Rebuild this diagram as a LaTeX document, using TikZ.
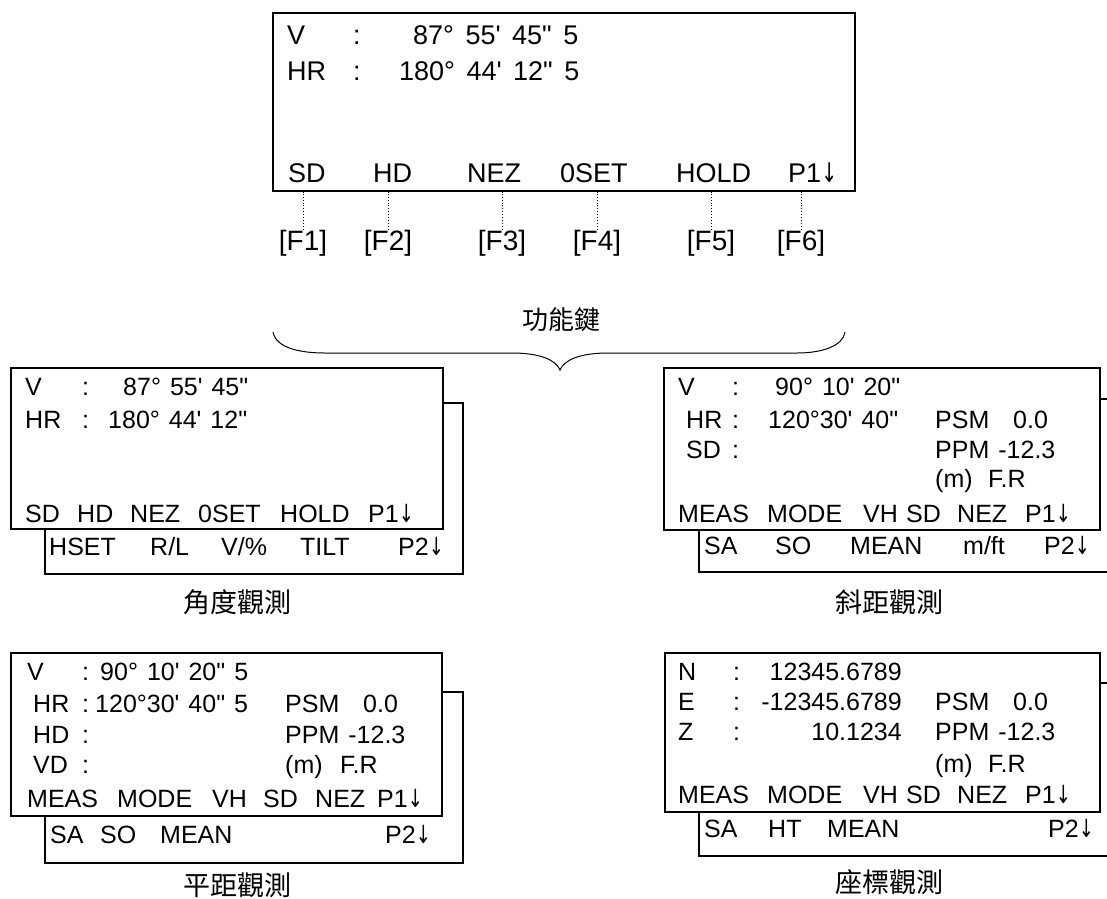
\documentclass[tikz,border=0pt]{standalone}
\usepackage{fontspec}
\newfontfamily\lcd{Liberation Sans}
\newfontfamily\dejavu{DejaVu Sans}
\newfontfamily\cjk{Noto Sans CJK TC}
\newcommand\dnarr{\scalebox{0.72}[1]{\dejavu ↓}}

\begin{document}
\begin{tikzpicture}[x=1pt, y=-1pt,
  scr/.style={draw, line width=1.2pt, fill=white},
  txt/.style={anchor=base west, inner sep=0pt, font=\lcd\fontsize{25}{28}\selectfont\spaceskip 9pt\relax},
  big/.style={txt, font=\lcd\fontsize{27}{30}\selectfont\spaceskip 11.5pt\relax},
  txe/.style={txt, anchor=base east},
  fkey/.style={anchor=base, inner sep=0pt, font=\lcd\fontsize{28}{30}\selectfont},
  capt/.style={inner sep=0pt, font=\cjk\fontsize{27}{30}\selectfont}]
\useasboundingbox (0,0) rectangle (1107,898);
\clip (0,0) rectangle (1107,898);

% main screen with function keys
\node[scr, inner sep=0pt, minimum width=582pt, minimum height=178pt] (main) at (564,102) {};
\node[big] (mv) at (287,44) {V};
\node[big] (mvc) at (353,44) {:};
\node[big] (mvv) at (413,44) {87° 55' 45" 5};
\node[big] (mh) at (287,80) {HR};
\node[big] (mhc) at (353,80) {:};
\node[big] (mhv) at (399,80) {180° 44' 12" 5};
\node[big] (k1) at (288,182) {SD};
\node[big] (k2) at (373,182) {HD};
\node[big] (k3) at (467,182) {NEZ};
\node[big] (k4) at (560,182) {0SET};
\node[big] (k5) at (676,182) {HOLD};
\node[big] (k6) at (788,182) {P1\dnarr};
\node[fkey] (f1) at (303,250) {[F1]};
\node[fkey] (f2) at (388,250) {[F2]};
\node[fkey] (f3) at (502,250) {[F3]};
\node[fkey] (f4) at (597,250) {[F4]};
\node[fkey] (f5) at (711,250) {[F5]};
\node[fkey] (f6) at (801,250) {[F6]};
\draw[dotted, line width=0.9pt] (f1.north) -- (f1.north |- main.south);
\draw[dotted, line width=0.9pt] (f2.north) -- (f2.north |- main.south);
\draw[dotted, line width=0.9pt] (f3.north) -- (f3.north |- main.south);
\draw[dotted, line width=0.9pt] (f4.north) -- (f4.north |- main.south);
\draw[dotted, line width=0.9pt] (f5.north) -- (f5.north |- main.south);
\draw[dotted, line width=0.9pt] (f6.north) -- (f6.north |- main.south);

% brace
\node[capt, font=\cjk\fontsize{26}{28}\selectfont] (fn) at (561,320) {功能鍵};
\draw[line width=1pt] (273,332) .. controls (276,348) and (300,353) .. (325,353) -- (512,353)
  .. controls (540,353) and (556,360) .. (560,370) .. controls (564,360) and (580,353) .. (608,353)
  -- (797,353) .. controls (822,353) and (843,346) .. (845,332);

% angle measurement
\draw[scr] (45,403) rectangle (463,574);
\draw[scr] (11,368) rectangle (443,529);
\node[txt] (av) at (25,395) {V};
\node[txt] (avc) at (82,395) {:};
\node[txt] (avv) at (123,395) {87° 55' 45"};
\node[txt] (ah) at (25,428) {HR};
\node[txt] (ahc) at (82,428) {:};
\node[txt] (ahv) at (108,428) {180° 44' 12"};
\node[txt] (a1) at (25,522) {SD};
\node[txt] (a2) at (77,522) {HD};
\node[txt] (a3) at (130,522) {NEZ};
\node[txt] (a4) at (198,522) {0SET};
\node[txt] (a5) at (280,522) {HOLD};
\node[txt] (a6) at (368,522) {P1\dnarr};
\node[txt] (b1) at (49,555) {HSET};
\node[txt] (b2) at (150,555) {R/L};
\node[txt] (b3) at (221,555) {V/\%};
\node[txt] (b4) at (300,555) {TILT};
\node[txt] (b5) at (398,555) {P2\dnarr};
\node[capt] (acap) at (237,602) {角度觀測};

% slope distance
\draw[scr] (699,399) rectangle (1120,572);
\draw[scr] (664,368) rectangle (1100,530);
\node[txt] (sv) at (678,395) {V};
\node[txt] (svc) at (732,395) {:};
\node[txt] (svv) at (775,395) {90° 10' 20"};
\node[txt] (sh) at (686,428) {HR};
\node[txt] (shc) at (732,428) {:};
\node[txt] (shv) at (768,428) {120°30' 40"};
\node[txt] (sd) at (686,458) {SD};
\node[txt] (sdc) at (732,458) {:};
\node[txt] (spsm) at (935,428) {PSM};
\node[txt] (spsv) at (1013,428) {0.0};
\node[txt] (sppm) at (935,458) {PPM -12.3};
\node[txt] (sm) at (935,487) {(m)};
\node[txt] (sfr) at (988,487) {F.R};
\node[txt] (s1) at (678,522) {MEAS};
\node[txt] (s2) at (767,522) {MODE};
\node[txt] (s3) at (863,522) {VH};
\node[txt] (s4) at (906,522) {SD};
\node[txt] (s5) at (957,522) {NEZ};
\node[txt] (s6) at (1025,522) {P1\dnarr};
\node[txt] (u1) at (704,554) {SA};
\node[txt] (u2) at (775,554) {SO};
\node[txt] (u3) at (850,554) {MEAN};
\node[txt] (u4) at (963,554) {m/ft};
\node[txt] (u5) at (1044,554) {P2\dnarr};
\node[capt] (scap) at (889,602) {斜距觀測};

% horizontal distance
\draw[scr] (45,692) rectangle (463,863);
\draw[scr] (11,653) rectangle (442,816);
\node[txt] (hv) at (27,680) {V};
\node[txt] (hvc) at (82,680) {:};
\node[txt] (hvv) at (100,680) {90° 10' 20" 5};
\node[txt] (hh) at (33,712) {HR};
\node[txt] (hhc) at (82,712) {:};
\node[txt] (hhv) at (95,712) {120°30' 40" 5};
\node[txt] (hd) at (33,743) {HD};
\node[txt] (hdc) at (82,743) {:};
\node[txt] (vd) at (33,773) {VD};
\node[txt] (vdc) at (82,773) {:};
\node[txt] (hpsm) at (285,712) {PSM};
\node[txt] (hpsv) at (363,712) {0.0};
\node[txt] (hppm) at (285,743) {PPM -12.3};
\node[txt] (hm) at (285,773) {(m)};
\node[txt] (hfr) at (340,773) {F.R};
\node[txt] (h1) at (27,807) {MEAS};
\node[txt] (h2) at (117,807) {MODE};
\node[txt] (h3) at (212,807) {VH};
\node[txt] (h4) at (263,807) {SD};
\node[txt] (h5) at (315,807) {NEZ};
\node[txt] (h6) at (377,807) {P1\dnarr};
\node[txt] (g1) at (50,843) {SA};
\node[txt] (g2) at (100,843) {SO};
\node[txt] (g3) at (160,843) {MEAN};
\node[txt] (g4) at (385,843) {P2\dnarr};
\node[capt] (hcap) at (237,885) {平距觀測};

% coordinates
\draw[scr] (699,683) rectangle (1120,856);
\draw[scr] (665,653) rectangle (1100,812);
\node[txt] (cn) at (678,680) {N};
\node[txt] (cnc) at (733,680) {:};
\node[txe] (cnv) at (902,680) {12345.6789};
\node[txt] (ce) at (678,710) {E};
\node[txt] (cec) at (733,710) {:};
\node[txe] (cev) at (902,710) {-12345.6789};
\node[txt] (cz) at (678,740) {Z};
\node[txt] (czc) at (733,740) {:};
\node[txe] (czv) at (902,740) {10.1234};
\node[txt] (cpsm) at (935,710) {PSM};
\node[txt] (cpsv) at (1013,710) {0.0};
\node[txt] (cppm) at (935,740) {PPM -12.3};
\node[txt] (cm) at (935,772) {(m)};
\node[txt] (cfr) at (988,772) {F.R};
\node[txt] (c1) at (678,803) {MEAS};
\node[txt] (c2) at (767,803) {MODE};
\node[txt] (c3) at (863,803) {VH};
\node[txt] (c4) at (906,803) {SD};
\node[txt] (c5) at (957,803) {NEZ};
\node[txt] (c6) at (1025,803) {P1\dnarr};
\node[txt] (d1) at (704,837) {SA};
\node[txt] (d2) at (768,837) {HT};
\node[txt] (d3) at (827,837) {MEAN};
\node[txt] (d4) at (1048,837) {P2\dnarr};
\node[capt] (ccap) at (889,882) {座標觀測};
\end{tikzpicture}
\end{document}
